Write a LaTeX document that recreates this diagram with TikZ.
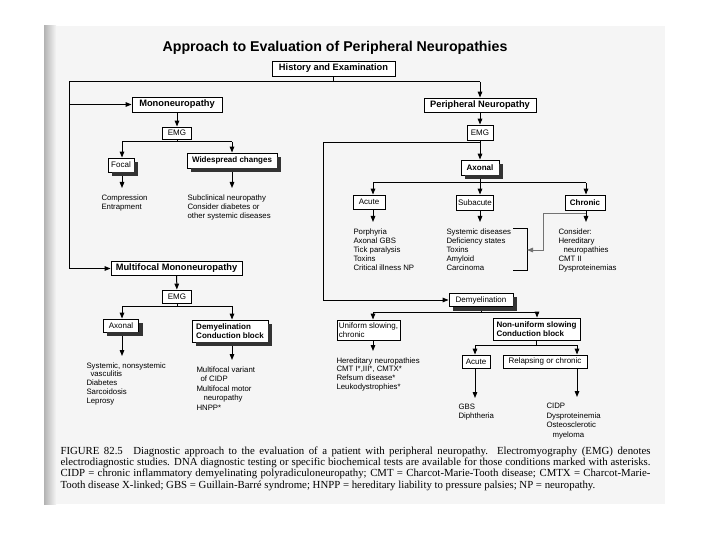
\documentclass[tikz,border=0pt]{standalone}
\usepackage{fontspec}
\setmainfont{Liberation Serif}
\newfontfamily\chartfont{Liberation Sans}
\usetikzlibrary{arrows.meta}
\tikzset{
  box/.style={draw,line width=.9pt,fill=white,inner sep=1.5pt,align=center,
    font=\chartfont\fontsize{8}{9.5}\selectfont},
  bbox/.style={box,font=\chartfont\bfseries\fontsize{8}{9.5}\selectfont},
  mainbox/.style={box,font=\chartfont\bfseries\fontsize{9.3}{11}\selectfont},
  list/.style={anchor=north west,inner sep=0pt,align=left,
    font=\chartfont\fontsize{7.8}{9}\selectfont},
  arr/.style={-{Triangle[length=6pt,width=4.6pt]}},
  toList/.style={arr,shorten >=6pt},
  shadowfill/.style={fill=black!80},
}
\newcommand\boxshadow[1]{%
  \fill[shadowfill] ([xshift=4pt,yshift=-4pt]#1.south west) rectangle ([xshift=4pt]#1.south east);
  \fill[shadowfill] ([yshift=-4pt]#1.north east) rectangle ([xshift=4pt,yshift=-4pt]#1.south east);}
\begin{document}
\begin{tikzpicture}[x=1pt,y=-1pt,line width=1pt]
  \useasboundingbox (0,0) rectangle (720,540);
  \fill[white] (0,0) rectangle (720,540);
  \fill[black!4] (47,26) rectangle (665,504);
  \shade[left color=black!30,right color=black!4] (44,26) rectangle (56,504);

  \node[font=\chartfont\bfseries\fontsize{14.2}{16}\selectfont] (title) at (335,48)
    {Approach to Evaluation of Peripheral Neuropathies};
  \node[mainbox,minimum width=123pt,minimum height=15pt] (hx) at (333.5,68.5) {History and Examination};

  % left branch
  \node[mainbox,minimum width=90pt,minimum height=15pt] (mono) at (177,104.5) {Mononeuropathy};
  \node[box,minimum width=29pt,minimum height=12pt] (emgA) at (177,133) {EMG};
  \node[box,minimum width=26pt,minimum height=14pt] (focal) at (121,165) {Focal};
  \node[bbox,minimum width=90pt,minimum height=15pt] (wide) at (232,160.5) {Widespread changes};
  \node[list] (comp) at (101,194) {Compression\\Entrapment};
  \node[list] (subc) at (187,194) {Subclinical neuropathy\\Consider diabetes or\\other systemic diseases};

  \node[mainbox,minimum width=131pt,minimum height=14pt] (mm) at (176.5,268.5) {Multifocal Mononeuropathy};
  \node[box,minimum width=29pt,minimum height=13pt] (emgB) at (177,296.5) {EMG};
  \node[box,minimum width=35pt,minimum height=13pt] (axL) at (121,325.5) {Axonal};
  \node[bbox,minimum width=76pt,minimum height=22pt,align=left] (dcb) at (230,331)
    {Demyelination\\Conduction block};
  \node[list,font=\chartfont\fontsize{7.8}{8.8}\selectfont] (syst) at (86,362)
    {Systemic, nonsystemic\\\hspace{4pt}vasculitis\\Diabetes\\Sarcoidosis\\Leprosy};
  \node[list,font=\chartfont\fontsize{7.8}{9.5}\selectfont] (mfv) at (196,366)
    {Multifocal variant\\\hspace{4pt}of CIDP\\Multifocal motor\\\hspace{7pt}neuropathy\\HNPP*};

  % right branch
  \node[mainbox,minimum width=112pt,minimum height=14pt] (pn) at (480,105) {Peripheral Neuropathy};
  \node[box,minimum width=26pt,minimum height=15pt] (emgC) at (480,132.5) {EMG};
  \node[bbox,minimum width=38pt,minimum height=15pt] (axR) at (480,167.5) {Axonal};
  \node[box,minimum width=32pt,minimum height=14pt] (acu) at (369,202) {Acute};
  \node[box,minimum width=36pt,minimum height=15pt] (sub) at (475,202.5) {Subacute};
  \node[bbox,minimum width=40pt,minimum height=15pt] (chr) at (585,202.5) {Chronic};
  \node[list] (porph) at (353,228)
    {Porphyria\\Axonal GBS\\Tick paralysis\\Toxins\\Critical illness NP};
  \node[list] (sysd) at (446,228)
    {Systemic diseases\\Deficiency states\\Toxins\\Amyloid\\Carcinoma};
  \node[list] (cons) at (558,228)
    {Consider:\\Hereditary\\\hspace{5pt}neuropathies\\CMT II\\Dysproteinemias};

  \node[box,minimum width=64pt,minimum height=13pt] (demy) at (481,300) {Demyelination};
  \node[box,minimum width=63pt,minimum height=20pt,align=left] (unif) at (368.5,330)
    {Uniform slowing,\\chronic};
  \node[bbox,minimum width=87pt,minimum height=22pt,align=left] (nonu) at (536.5,329)
    {Non-uniform slowing\\Conduction block};
  \node[box,minimum width=28pt,minimum height=13pt] (acu2) at (476,361.5) {Acute};
  \node[box,minimum width=84pt,minimum height=13pt] (relap) at (545,361.5) {Relapsing or chronic};
  \node[list,font=\chartfont\fontsize{7.8}{8.7}\selectfont] (hered) at (336,357)
    {Hereditary neuropathies\\CMT I*,III*, CMTX*\\Refsum disease*\\Leukodystrophies*};
  \node[list] (gbs) at (458,404) {GBS\\Diphtheria};
  \node[list,font=\chartfont\fontsize{7.8}{9.4}\selectfont] (cidp) at (546,403)
    {CIDP\\Dysproteinemia\\Osteosclerotic\\\hspace{6pt}myeloma};

  \boxshadow{focal}
  \boxshadow{wide}
  \boxshadow{axL}
  \boxshadow{dcb}
  \boxshadow{axR}
  \boxshadow{demy}

  % connectors
  \coordinate (tl) at (69,82);
  \coordinate (tr) at (480,82);
  \coordinate (bl) at (69,268.5);
  \draw (hx) -- (hx |- tl);
  \draw (tl) -- (tr);
  \draw[arr] (tr) -- (pn);
  \draw (tl) -- (bl);
  \draw[arr] (tl |- mono) -- (mono);
  \draw[arr] (bl) -- (mm);

  \coordinate (ja1) at (122,142);
  \coordinate (ja2) at (232,142);
  \draw[arr] (mono) -- (emgA);
  \draw (emgA) -- (emgA |- ja1);
  \draw (ja1) -- (ja2);
  \draw[arr] (ja1) -- (ja1 |- focal.north);
  \draw[arr] (ja2) -- (wide);
  \draw[toList] ([yshift=-4pt]ja1 |- focal.south) -- (ja1 |- comp.north);
  \draw[toList] ([yshift=-4pt]wide.south) -- (wide.south |- subc.north);

  \coordinate (jb1) at (122,306);
  \coordinate (jb2) at (232,306);
  \draw[arr] (mm) -- (emgB);
  \draw (emgB) -- (emgB |- jb1);
  \draw (jb1) -- (jb2);
  \draw[arr] (jb1) -- (jb1 |- axL.north);
  \draw[arr] (jb2) -- (jb2 |- dcb.north);
  \draw[toList] ([yshift=-4pt]jb1 |- axL.south) -- (jb1 |- syst.north);
  \draw[toList] ([yshift=-4pt]jb2 |- dcb.south) -- (jb2 |- mfv.north);

  \coordinate (jl) at (323,143);
  \draw[arr] (pn) -- (emgC);
  \draw[arr] (emgC) -- (axR);
  \draw[arr] (emgC.south |- jl) -- (jl) |- (demy);

  \coordinate (jr1) at (373,183);
  \coordinate (jr3) at (586,183);
  \draw ([yshift=-4pt]axR.south) -- (axR |- jr1);
  \draw (jr1) -- (jr3);
  \draw[arr] (jr1) -- (jr1 |- acu.north);
  \draw[arr] (axR |- jr1) -- (axR |- sub.north);
  \draw[arr] (jr3) -- (jr3 |- chr.north);
  \draw[toList] (jr1 |- acu.south) -- (jr1 |- porph.north);
  \draw[toList] (axR |- sub.south) -- (axR |- sysd.north);
  \draw[toList] (jr3 |- chr.south) -- (jr3 |- cons.north);

  \coordinate (gk) at (543,213);
  \coordinate (bm) at (527,250);
  \draw (513,229) -- (527,229) -- (527,270) -- (513,270);
  \draw[arr,black!55,line width=.8pt] (jr3 |- gk) -- (gk) |- (bm);

  \coordinate (jd1) at (373,312);
  \coordinate (jd2) at (537,312);
  \draw ([yshift=-4pt]demy.south) -- (demy |- jd1);
  \draw (jd1) -- (jd2);
  \draw[arr] (jd1) -- (jd1 |- unif.north);
  \draw[arr] (jd2) -- (jd2 |- nonu.north);
  \draw[toList] (jd1 |- unif.south) -- (jd1 |- hered.north);

  \coordinate (jn1) at (475,345);
  \coordinate (jn2) at (577,345);
  \draw (nonu) -- (nonu |- jn1);
  \draw (jn1) -- (jn2);
  \draw[arr] (jn1) -- (jn1 |- acu2.north);
  \draw[arr] (jn2) -- (jn2 |- relap.north);
  \draw[toList] (jn1 |- acu2.south) -- (jn1 |- gbs.north);
  \draw[toList] (jn2 |- relap.south) -- (jn2 |- cidp.north);

  \node[anchor=north west,inner sep=0pt,text width=590pt,align=justify,
    font=\fontsize{10.8}{11.3}\selectfont] (cap) at (60,446)
    {FIGURE 82.5\hspace{6pt} Diagnostic approach to the evaluation of a patient with peripheral neuropathy. Electromyography (EMG) denotes\linebreak
    electrodiagnostic studies. DNA diagnostic testing or specific biochemical tests are available for those conditions marked with asterisks.\linebreak
    CIDP = chronic inflammatory demyelinating polyradiculoneuropathy; CMT = Charcot-Marie-Tooth disease; CMTX = Charcot-Marie-\linebreak
    Tooth disease X-linked; GBS = Guillain-Barré syndrome; HNPP = hereditary liability to pressure palsies; NP = neuropathy.};
\end{tikzpicture}
\end{document}
